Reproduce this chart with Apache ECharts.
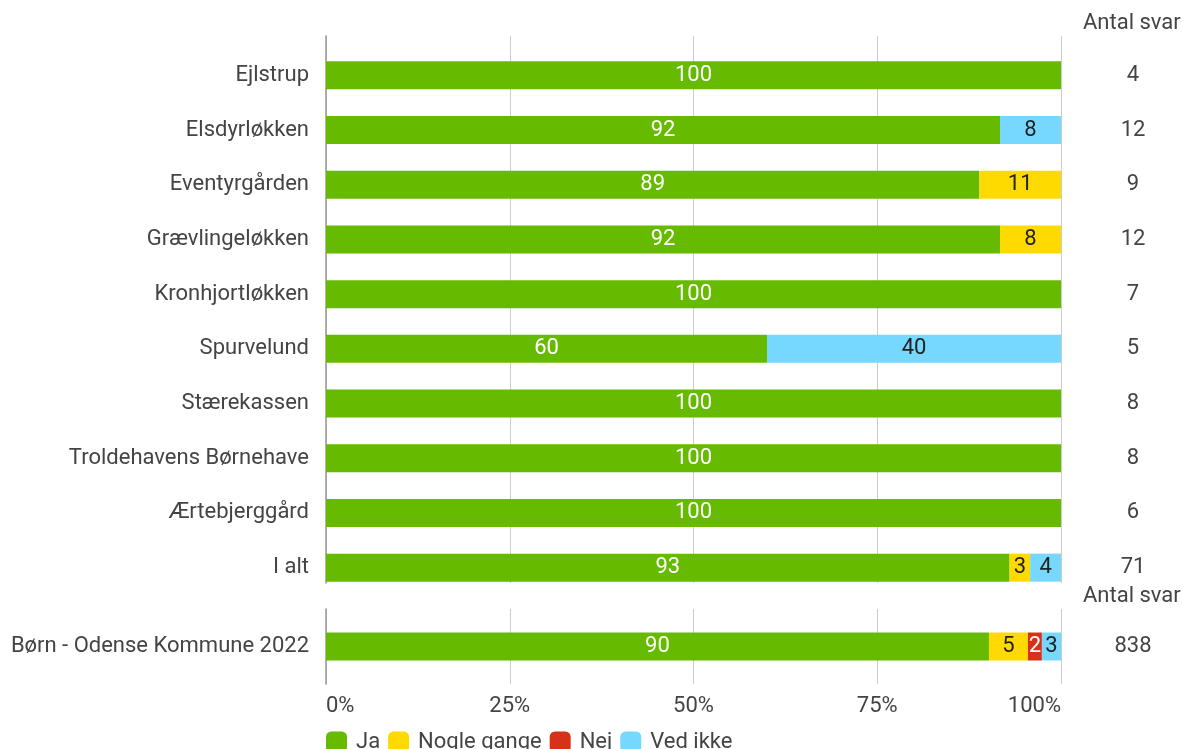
<!DOCTYPE html>
<html><head><meta charset="utf-8">
<script src="https://cdn.jsdelivr.net/npm/echarts@6/dist/echarts.min.js"></script>
<style>html,body{margin:0;padding:0;background:#fff}#c{width:1183px;height:749px}</style>
</head><body><div id="c"></div>
<script>
const categories = ['Ejlstrup','Elsdyrløkken','Eventyrgården','Grævlingeløkken','Kronhjortløkken','Spurvelund','Stærekassen','Troldehavens Børnehave','Ærtebjerggård','I alt'];
const counts = ['4','12','9','12','7','5','8','8','6','71'];
const ja       = [100, 91.7, 88.9, 91.7, 100, 60, 100, 100, 100, 93.0];
const nogle    = [0, 0, 11.1, 8.3, 0, 0, 0, 0, 0, 2.8];
const nej      = [0, 0, 0, 0, 0, 0, 0, 0, 0, 0];
const vedIkke  = [0, 8.3, 0, 0, 0, 40, 0, 0, 0, 4.2];
const refCategory = ['Børn - Odense Kommune 2022'];
const refCount = ['838'];
const refJa = [90.2], refNogle = [5.3], refNej = [1.9], refVed = [2.6];
const seriesNames = ['Ja','Nogle gange','Nej','Ved ikke'];
const colors = ['#66bb00','#ffda00','#d6321a','#76d8ff'];
const labelColors = ['#ffffff','#222222','#ffffff','#222222'];
const xTicks = [0,25,50,75,100];

const FONT = 'Roboto';
const FS = 22;
const chart = echarts.init(document.getElementById('c'));
function mkSeries(dataArr, xi, yi) {
  return dataArr.map((d, i) => ({
    name: seriesNames[i], type: 'bar', stack: 's' + xi, xAxisIndex: xi, yAxisIndex: yi,
    barWidth: 28, data: d, itemStyle: {color: colors[i]},
    label: {show: true, position: 'inside', color: labelColors[i], fontFamily: FONT, fontSize: FS,
      formatter: p => p.value > 0 ? Math.round(p.value) : ''},
    emphasis: {disabled: true}, animation: false
  }));
}
const valAxisBase = {type: 'value', min: 0, max: 100, interval: 25};
const option = {
  animation: false,
  textStyle: {fontFamily: FONT},
  legend: {data: seriesNames, left: 321, top: 726, itemWidth: 21, itemHeight: 21, itemGap: 8,
    icon: 'roundRect', textStyle: {fontFamily: FONT, fontSize: FS, color: '#444', padding: [0, 0, 0, 4]}},
  grid: [
    {left: 326, width: 735, top: 36, height: 547},
    {left: 326, width: 735, top: 48, height: 547},
    {left: 326, width: 735, top: 609, height: 75}
  ],
  xAxis: [
    Object.assign({gridIndex: 0, axisLine: {show: false}, axisTick: {show: false}, axisLabel: {show: false},
      splitLine: {show: true, lineStyle: {color: '#cccccc', width: 1}}}, valAxisBase),
    Object.assign({gridIndex: 1, show: false}, valAxisBase),
    Object.assign({gridIndex: 2, axisLine: {show: false}, axisTick: {show: false},
      axisLabel: {show: true, formatter: v => xTicks.includes(v) ? v + '%' : '', fontFamily: FONT, fontSize: FS, color: '#444', margin: 11,
        alignMinLabel: 'left', alignMaxLabel: 'right'},
      splitLine: {show: true, lineStyle: {color: '#cccccc', width: 1}}}, valAxisBase)
  ],
  yAxis: [
    {gridIndex: 0, type: 'value', min: 0, max: 1, axisLine: {show: true, onZero: false, lineStyle: {color: '#999999', width: 1.5}},
      axisTick: {show: false}, axisLabel: {show: false}, splitLine: {show: false}},
    {gridIndex: 1, type: 'category', inverse: true, data: categories, axisLine: {show: false}, axisTick: {show: false},
      axisLabel: {fontFamily: FONT, fontSize: FS, color: '#444', margin: 17}},
    {gridIndex: 1, type: 'category', inverse: true, position: 'right', data: counts, axisLine: {show: false}, axisTick: {show: false},
      axisLabel: {fontFamily: FONT, fontSize: FS, color: '#444', margin: 72, align: 'center'}},
    {gridIndex: 2, type: 'category', inverse: true, data: refCategory, axisLine: {show: true, lineStyle: {color: '#999999', width: 1.5}}, axisTick: {show: false},
      axisLabel: {fontFamily: FONT, fontSize: FS, color: '#444', margin: 17}},
    {gridIndex: 2, type: 'category', inverse: true, position: 'right', data: refCount, axisLine: {show: false}, axisTick: {show: false},
      axisLabel: {fontFamily: FONT, fontSize: FS, color: '#444', margin: 72, align: 'center'}}
  ],
  graphic: [
    {type: 'text', left: 1083, top: 12, style: {text: 'Antal svar', font: FS + 'px Roboto', fill: '#444'}},
    {type: 'text', left: 1083, top: 585, style: {text: 'Antal svar', font: FS + 'px Roboto', fill: '#444'}}
  ],
  series: [].concat(
    mkSeries([ja, nogle, nej, vedIkke], 1, 1),
    mkSeries([refJa, refNogle, refNej, refVed], 2, 3)
  )
};
chart.setOption(option);
</script></body></html>
